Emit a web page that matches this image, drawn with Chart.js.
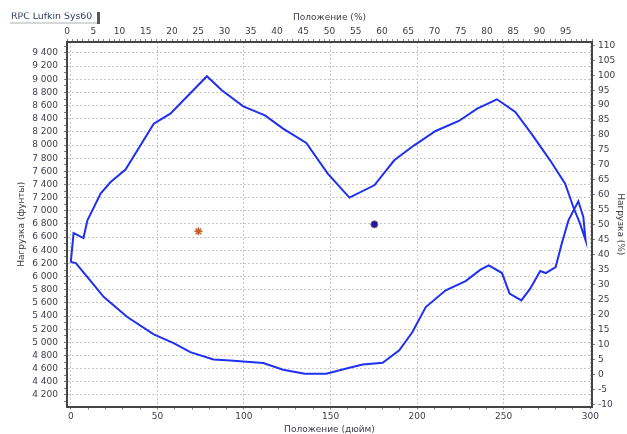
<!DOCTYPE html>
<html>
<head>
<meta charset="utf-8">
<script src="https://cdn.jsdelivr.net/npm/chart.js@4.4.0/dist/chart.umd.min.js"></script>
<style>
html, body { margin: 0; padding: 0; background: #fff; }
canvas { display: block; }
</style>
</head>
<body>
<canvas id="dyno" width="627" height="434"></canvas>
<script>
// динамограмма: положение (дюйм) / нагрузка (фунты), замкнутый контур
const positionIn = [0, 1.6, 7.3, 9.6, 17.2, 23, 31.6, 47.9, 57.5, 78.6, 87.2, 99.6, 112.1, 122.6, 136, 148.4,
  160.9, 175.3, 186.8, 198.3, 210.7, 224.1, 234.7, 246.1, 256.7, 266.3, 276.8, 285.5, 290.2, 294.1, 297.3,
  296, 293.1, 287.4, 283.5, 280, 274.3, 271.1, 265.3, 260.2, 253.4, 249, 241.4, 236.6, 228, 216.5, 205,
  197.3, 189.7, 180.1, 168.6, 160.9, 147.5, 135.1, 122.6, 111.1, 92, 82.4, 69, 59.4, 47.9, 32.6, 19.1,
  9.6, 2.9, 0];
const loadLb = [6221, 6662, 6586, 6855, 7262, 7438, 7627, 8326, 8478, 9046, 8833, 8589, 8452, 8250, 8031, 7566,
  7201, 7388, 7768, 7996, 8214, 8366, 8554, 8696, 8503, 8163, 7768, 7414, 7058, 6805, 6551,
  6906, 7145, 6855, 6501, 6145, 6054, 6084, 5817, 5639, 5741, 6054, 6171, 6106, 5932, 5791, 5537,
  5157, 4878, 4691, 4665, 4615, 4524, 4524, 4585, 4685, 4726, 4741, 4852, 4989, 5122, 5385, 5689,
  5993, 6206, 6221];

// маркеры
const starPoint = [73.7, 6688];
const dotPoint = [175.3, 6795];

// диапазоны осей
const xRange = [-2.2, 301];
const pctRange = [0, 100];
const loadRange = [4025, 9567];
const loadPctRange = [-10.7, 111.1];

const fnt = { family: 'DejaVu Sans', size: 9, lineHeight: 1 };
const txt = '#3c3c4c';
const gridCol = '#c8c8c8';
const frame = '#454545';
const tickCol = '#808080';

function spaced(v) {
  return String(v).replace(/\B(?=(\d{3})+(?!\d))/g, ' ');
}

// плашка с названием (верх обрезан, тень справа)
const titleBox = {
  id: 'titleBox',
  afterDraw(chart) {
    const ctx = chart.ctx;
    ctx.save();
    ctx.fillStyle = '#ffffff';
    ctx.fillRect(9, 11, 88, 12);
    ctx.fillStyle = '#b0b0b0';
    ctx.fillRect(10, 22.5, 88, 1);
    ctx.fillStyle = '#585858';
    ctx.fillRect(97, 12, 3, 12);
    ctx.beginPath();
    ctx.rect(9, 12.5, 88, 11);
    ctx.clip();
    ctx.fillStyle = '#2c3a6a';
    ctx.font = '9.4px "DejaVu Sans"';
    ctx.textBaseline = 'middle';
    ctx.fillText('RPC Lufkin Sys60', 11, 16.5);
    ctx.restore();
  }
};

new Chart(document.getElementById('dyno'), {
  type: 'scatter',
  data: {
    datasets: [
      {
        data: positionIn.map((x, i) => ({ x: x, y: loadLb[i] })),
        showLine: true,
        borderColor: '#2030f0',
        borderWidth: 2,
        pointRadius: 0,
        tension: 0,
        xAxisID: 'x', yAxisID: 'y'
      },
      {
        data: [{ x: starPoint[0], y: starPoint[1] }],
        pointStyle: 'star',
        pointRadius: 4,
        borderColor: '#c0602a',
        borderWidth: 1.5,
        xAxisID: 'x', yAxisID: 'y'
      },
      {
        data: [{ x: dotPoint[0], y: dotPoint[1] }],
        pointStyle: 'circle',
        pointRadius: 3.5,
        backgroundColor: '#1a1aa8',
        borderColor: '#a05060',
        borderWidth: 1,
        xAxisID: 'x', yAxisID: 'y'
      }
    ]
  },
  options: {
    responsive: false,
    animation: false,
    events: [],
    layout: { padding: 0 },
    plugins: { legend: { display: false }, tooltip: { enabled: false } },
    scales: {
      x: {
        type: 'linear', position: 'bottom', min: xRange[0], max: xRange[1],
        ticks: { stepSize: 10, includeBounds: false, autoSkip: false, maxRotation: 0, padding: 3, color: txt, font: fnt,
          callback: v => (v % 50 === 0 ? v : '') },
        grid: { color: c => (c.tick && c.tick.value % 50 === 0 ? gridCol : 'rgba(0,0,0,0)'), tickColor: tickCol, tickLength: 3 },
        border: { color: frame, width: 2, dash: [2, 2] },
        title: { display: true, text: 'Положение (дюйм)', color: txt, font: fnt, padding: { top: 0, bottom: 0 } },
        afterFit: s => { s.height = 27.5; }
      },
      x2: {
        type: 'linear', position: 'top', min: pctRange[0], max: pctRange[1],
        ticks: { stepSize: 1, autoSkip: false, maxRotation: 0, padding: 3, color: txt, font: fnt,
          callback: v => (v % 5 === 0 && v < 100 ? v : '') },
        grid: { drawOnChartArea: false, tickColor: tickCol, tickLength: 3 },
        border: { color: frame, width: 2 },
        title: { display: true, text: 'Положение (%)', color: txt, font: fnt, padding: { top: 13.5, bottom: 0 } },
        afterFit: s => { s.height = 42; }
      },
      y: {
        type: 'linear', position: 'left', min: loadRange[0], max: loadRange[1],
        ticks: { stepSize: 100, includeBounds: false, autoSkip: false, padding: 6, color: txt, font: fnt,
          callback: v => (v % 200 === 0 ? spaced(v) : '') },
        grid: { color: c => (c.tick && c.tick.value % 200 === 0 ? gridCol : 'rgba(0,0,0,0)'), tickColor: tickCol, tickLength: 3 },
        border: { color: frame, width: 2, dash: [2, 2] },
        title: { display: true, text: 'Нагрузка (фунты)', color: txt, font: fnt, padding: { top: 17.5, bottom: 0 } },
        afterFit: s => { s.width = 67; }
      },
      y2: {
        type: 'linear', position: 'right', min: loadPctRange[0], max: loadPctRange[1],
        ticks: { stepSize: 5, includeBounds: false, autoSkip: false, padding: 3, color: txt, font: fnt },
        grid: { drawOnChartArea: false, tickColor: tickCol, tickLength: 3 },
        border: { color: frame, width: 2 },
        title: { display: true, text: 'Нагрузка (%)', color: txt, font: fnt, padding: { top: 2.5, bottom: 0 } },
        afterFit: s => { s.width = 35; }
      }
    }
  },
  plugins: [titleBox]
});
</script>
</body>
</html>
